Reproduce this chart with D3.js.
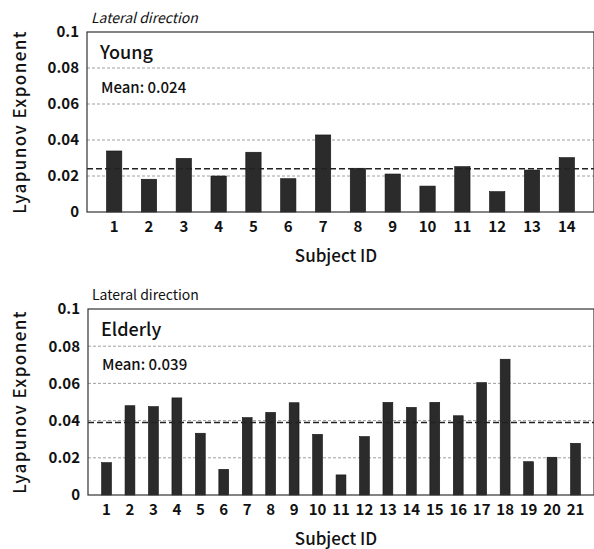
<!DOCTYPE html>
<html>
<head>
<meta charset="utf-8">
<script src="https://cdn.jsdelivr.net/npm/d3@7"></script>
<style>
  body { margin: 0; background: #fff; }
  svg { display: block; }
  text { font-family: "Noto Sans CJK JP", "DejaVu Sans", sans-serif; fill: #111; }
</style>
</head>
<body>
<svg id="chart" width="594" height="549"></svg>
<script>
// young subjects
const youngIds = d3.range(1, 15);
const youngVals = [0.0339, 0.0182, 0.0298, 0.020, 0.0332, 0.0185, 0.0428, 0.0243, 0.0211, 0.0144, 0.0252, 0.0113, 0.0233, 0.0302];
const youngMean = 0.024;
// elderly subjects
const elderIds = d3.range(1, 22);
const elderVals = [0.0174, 0.048, 0.0475, 0.0522, 0.0332, 0.0138, 0.0416, 0.0444, 0.0496, 0.0326, 0.0108, 0.0314, 0.0498, 0.0471, 0.0498, 0.0426, 0.0604, 0.073, 0.0179, 0.0203, 0.0278];
const elderMean = 0.039;
const yTicks = [0, 0.02, 0.04, 0.06, 0.08, 0.1];
const yTickLabels = ['0', '0.02', '0.04', '0.06', '0.08', '0.1'];

const svg = d3.select('#chart');
const barColor = '#2b2b2b';
const fontFam = '"Noto Sans CJK JP", "DejaVu Sans", sans-serif';

function drawPanel(ids, vals, mean, group, box, pad, italicTitle) {
  const g = svg.append('g');
  const x = d3.scaleBand().domain(ids).range([box.l, box.r]).padding(pad);
  const y = d3.scaleLinear().domain([0, 0.1]).range([box.b, box.t]);

  // gridlines
  g.selectAll('.grid')
    .data(yTicks.slice(1, 5))
    .enter().append('line')
    .attr('x1', box.l).attr('x2', box.r)
    .attr('y1', d => y(d)).attr('y2', d => y(d))
    .attr('stroke', '#888').attr('stroke-width', 0.8)
    .attr('stroke-dasharray', '3 2');

  // bars
  g.selectAll('.bar')
    .data(vals)
    .enter().append('rect')
    .attr('x', (d, i) => x(ids[i]))
    .attr('width', x.bandwidth())
    .attr('y', d => y(d))
    .attr('height', d => y(0) - y(d))
    .attr('fill', barColor)
    .attr('stroke', '#111').attr('stroke-width', 0.6);

  // mean line
  g.append('line')
    .attr('x1', box.l).attr('x2', box.r)
    .attr('y1', y(mean)).attr('y2', y(mean))
    .attr('stroke', '#222').attr('stroke-width', 1.6)
    .attr('stroke-dasharray', '6 3');

  // frame
  g.append('rect')
    .attr('x', box.l).attr('y', box.t)
    .attr('width', box.r - box.l).attr('height', box.b - box.t)
    .attr('fill', 'none').attr('stroke', '#333').attr('stroke-width', 1.2);

  // y axis
  const yAxis = g.append('g')
    .attr('transform', `translate(${box.l},0)`)
    .call(d3.axisLeft(y).tickValues(yTicks).tickSize(0).tickPadding(8)
      .tickFormat((d, i) => yTickLabels[i]));
  yAxis.select('.domain').remove();
  yAxis.selectAll('text')
    .style('font-family', fontFam)
    .style('font-size', '15px').style('font-weight', 'bold').attr('fill', '#111');

  // x axis
  const xAxis = g.append('g')
    .attr('transform', `translate(0,${box.b})`)
    .call(d3.axisBottom(x).tickSize(0).tickPadding(9));
  xAxis.select('.domain').remove();
  xAxis.selectAll('text')
    .style('font-family', fontFam)
    .style('font-size', '15px').style('font-weight', 'bold').attr('fill', '#111');

  // labels
  g.append('text')
    .attr('x', box.l + 4).attr('y', box.t - 9)
    .style('font-size', '14px').style('font-style', italicTitle ? 'italic' : 'normal')
    .text('Lateral direction');
  g.append('text')
    .attr('x', box.l + 13).attr('y', box.t + 27)
    .style('font-size', '18px').style('font-weight', 500)
    .text(group);
  g.append('text')
    .attr('x', box.l + 14).attr('y', box.t + 61)
    .style('font-size', '15px').style('font-weight', 500)
    .text('Mean: ' + mean.toFixed(3));
  g.append('text')
    .attr('x', 336).attr('y', box.b + 50)
    .attr('text-anchor', 'middle')
    .style('font-size', '17px').style('font-weight', 500)
    .text('Subject ID');
  g.append('text')
    .attr('transform', `translate(26,${(box.t + box.b) / 2}) rotate(-90)`)
    .attr('text-anchor', 'middle')
    .style('font-size', '17px').style('font-weight', 500)
    .style('letter-spacing', '1.4px')
    .text('Lyapunov  Exponent');
}

drawPanel(youngIds, youngVals, youngMean, 'Young', {l: 87, r: 594, t: 32, b: 212}, 0.56, true);
drawPanel(elderIds, elderVals, elderMean, 'Elderly', {l: 88, r: 594, t: 309, b: 495}, 0.58, false);
</script>
</body>
</html>
